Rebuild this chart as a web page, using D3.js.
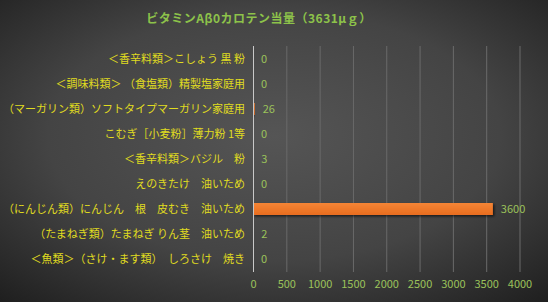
<!DOCTYPE html>
<html><head><meta charset="utf-8">
<script src="https://cdn.jsdelivr.net/npm/d3@7"></script>
<style>html,body{margin:0;padding:0;background:#333;}svg{display:block;}</style>
</head><body>
<svg id="c" width="548" height="302"></svg>
<script>
const title = "ビタミンAβ0カロテン当量（3631μｇ）";
const categories = [
  "＜香辛料類＞こしょう 黒 粉",
  "＜調味料類＞ （食塩類）精製塩家庭用",
  "（マーガリン類）ソフトタイプマーガリン家庭用",
  "こむぎ［小麦粉］薄力粉 1等",
  "＜香辛料類＞バジル　粉",
  "えのきたけ　油いため",
  "（にんじん類）にんじん　根　皮むき　油いため",
  "（たまねぎ類）たまねぎ りん茎　油いため",
  "＜魚類＞（さけ・ます類）　しろさけ　焼き"
];
const values = [0, 0, 26, 0, 3, 0, 3600, 2, 0];
const ticks = [0, 500, 1000, 1500, 2000, 2500, 3000, 3500, 4000];

const svg = d3.select("#c");
const W = 548, H = 302;
const defs = svg.append("defs");
const rg = defs.append("radialGradient").attr("id","bg").attr("cx","50%").attr("cy","45%").attr("r","75%");
rg.append("stop").attr("offset","0%").attr("stop-color","#555555");
rg.append("stop").attr("offset","55%").attr("stop-color","#444444");
rg.append("stop").attr("offset","100%").attr("stop-color","#1e1e1e");
svg.append("rect").attr("width",W).attr("height",H).attr("fill","url(#bg)");

const bgr = defs.append("linearGradient").attr("id","bar").attr("x1","0").attr("y1","0").attr("x2","0").attr("y2","1");
bgr.append("stop").attr("offset","0%").attr("stop-color","#f58535");
bgr.append("stop").attr("offset","100%").attr("stop-color","#e86d20");
const f = defs.append("filter").attr("id","sh").attr("x","-5%").attr("y","-50%").attr("width","115%").attr("height","250%");
f.append("feDropShadow").attr("dx",1.5).attr("dy",1.5).attr("stdDeviation",1.2).attr("flood-color","#000").attr("flood-opacity",0.6);

const x = d3.scaleLinear().domain([0,4000]).range([253,519.5]);
const y = d3.scaleBand().domain(categories).range([46.5,271.5]).paddingInner(0.52).paddingOuter(0.26);

const font = "'Noto Sans CJK JP','Noto Sans',sans-serif";

svg.append("text").attr("x",259).attr("y",23).attr("text-anchor","middle")
  .attr("fill","#8dc24a").attr("font-family",font).attr("font-size",12).attr("font-weight","bold")
  .attr("letter-spacing","0.5")
  .text(title);

// gridlines
svg.append("g").selectAll("line").data(ticks.slice(1)).join("line")
  .attr("x1",d=>x(d)+0.5).attr("x2",d=>x(d)+0.5).attr("y1",46).attr("y2",272)
  .attr("stroke","#6a6a6a").attr("stroke-width",1);

// x axis labels
const xa = d3.axisBottom(x).tickValues(ticks).tickFormat(d3.format("d")).tickSize(0).tickPadding(0);
const gx = svg.append("g").attr("transform","translate(0,280)").call(xa);
gx.select(".domain").remove();
gx.selectAll("text").attr("fill","#9bc25a").attr("font-family",font).attr("font-size",11).attr("dy","0.71em");

// bars
svg.append("g").selectAll("rect").data(values).join("rect")
  .attr("x",x(0)).attr("y",(d,i)=>y(categories[i]))
  .attr("width",d=>x(d)-x(0)).attr("height",y.bandwidth())
  .attr("fill","url(#bar)").attr("filter","url(#sh)");

// y axis line
svg.append("line").attr("x1",253.5).attr("x2",253.5).attr("y1",46).attr("y2",272)
  .attr("stroke","#c8c8c8").attr("stroke-width",1);

// category labels
const ya = d3.axisLeft(y).tickSize(0).tickPadding(8);
const gy = svg.append("g").attr("transform","translate(253,0)").call(ya);
gy.select(".domain").remove();
gy.selectAll("text").attr("fill","#e0dc20").attr("font-family",font).attr("font-size",11);

// value labels
svg.append("g").selectAll("text").data(values).join("text")
  .attr("x",d=>x(d)+8).attr("y",(d,i)=>y(categories[i])+y.bandwidth()/2)
  .attr("dy","0.35em").attr("fill","#9bc25a").attr("font-family",font).attr("font-size",11)
  .text(d=>d);
</script>
</body></html>
